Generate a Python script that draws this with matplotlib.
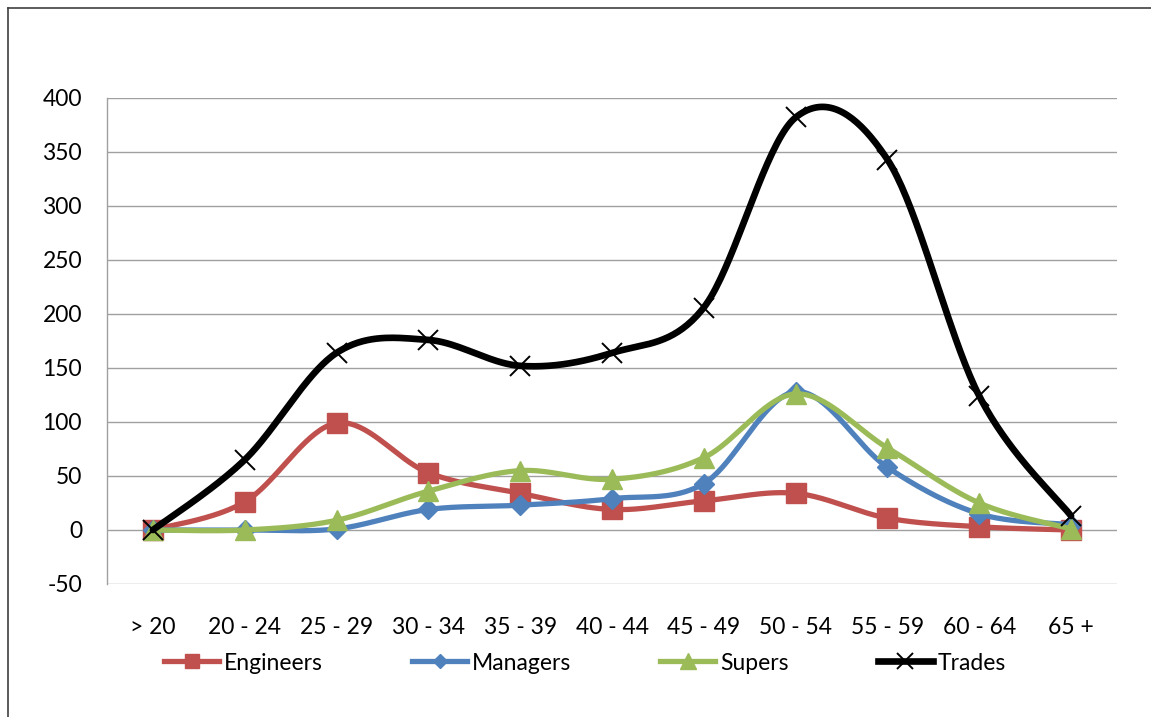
import numpy as np
import matplotlib
matplotlib.use("Agg")
import matplotlib.pyplot as plt
from matplotlib.lines import Line2D

# ---------------------------------------------------------------- dados
CATEGORIAS = ["> 20", "20 - 24", "25 - 29", "30 - 34", "35 - 39", "40 - 44",
              "45 - 49", "50 - 54", "55 - 59", "60 - 64", "65 +"]
ENGINEERS = [0, 26, 99, 53, 34, 19, 27, 34, 11, 3, 0]
MANAGERS = [0, 0, 1, 19, 23, 29, 43, 128, 58, 15, 5]
SUPERS = [0, 0, 9, 36, 55, 47, 67, 126, 76, 25, 1]
TRADES = [0, 65, 164, 176, 152, 164, 206, 382, 343, 124, 13]
Y_TICKS = [-50, 0, 50, 100, 150, 200, 250, 300, 350, 400]

# ---------------------------------------------------------------- estilo
FONT = ["Lato", "DejaVu Sans"]
FS = 16.5
RED = "#c0504d"
BLUE = "#4f81bd"
GREEN = "#9bbb59"
BLACK = "#000000"
GRID = "#a0a0a0"

plt.rcParams["font.family"] = FONT
plt.rcParams["axes.unicode_minus"] = False


def smooth(xs, ys, n=40):
    """Curva suavizada tipo Excel (Bezier Catmull-Rom por segmento)."""
    p = np.column_stack([xs, ys]).astype(float)
    pts = np.vstack([p[0], p, p[-1]])
    out = []
    t = np.linspace(0, 1, n)[:, None]
    for i in range(1, len(pts) - 2):
        p0, p1, p2, p3 = pts[i - 1], pts[i], pts[i + 1], pts[i + 2]
        c1 = p1 + (p2 - p0) / 6.0
        c2 = p2 - (p3 - p1) / 6.0
        seg = ((1 - t) ** 3) * p1 + 3 * ((1 - t) ** 2) * t * c1 \
            + 3 * (1 - t) * t ** 2 * c2 + t ** 3 * p2
        out.append(seg if i == 1 else seg[1:])
    s = np.vstack(out)
    return s[:, 0], s[:, 1]


fig = plt.figure(figsize=(11.51, 7.17), dpi=100)
ax = fig.add_axes([107 / 1151, 1 - 584 / 717, 1010 / 1151, 486 / 717])

x = np.arange(len(CATEGORIAS))
series = [
    ("Engineers", ENGINEERS, RED, "s", 14, 3.8, {}),
    ("Managers", MANAGERS, BLUE, "D", 10, 3.8, {}),
    ("Supers", SUPERS, GREEN, "^", 15, 3.8, {}),
    ("Trades", TRADES, BLACK, "x", 15, 4.8, {"markeredgewidth": 1.4}),
]

handles = []
for k, (nome, vals, cor, mk, ms, lw, extra) in enumerate(series):
    sx, sy = smooth(x, vals)
    z = 3 + 2 * k
    ax.plot(sx, sy, color=cor, lw=lw, solid_capstyle="round", zorder=z)
    ax.plot(x, vals, ls="none", marker=mk, ms=ms, color=cor,
            markeredgecolor=cor, zorder=z + 1, **extra)
    handles.append(Line2D([], [], color=cor, lw=lw, marker=mk,
                          ms=ms * 0.75, markeredgecolor=cor, label=nome,
                          **extra))

ax.set_xlim(-0.5, len(CATEGORIAS) - 0.5)
ax.set_ylim(-50, 400)
ax.set_yticks(Y_TICKS)
ax.set_xticks(x)
ax.set_xticklabels(CATEGORIAS)
ax.tick_params(axis="y", length=0, pad=18, labelsize=FS)
ax.tick_params(axis="x", length=0, pad=24, labelsize=FS)
ax.grid(axis="y", color=GRID, lw=1.0, zorder=0)
ax.set_axisbelow(True)
for s in ("top", "right", "bottom"):
    ax.spines[s].set_visible(False)
ax.spines["left"].set_color(GRID)
ax.spines["left"].set_linewidth(1.0)

fig.legend(handles=handles, loc="center", bbox_to_anchor=(585 / 1151, 1 - 663 / 717),
           ncol=4, frameon=False, fontsize=FS, handlelength=2.4,
           handletextpad=0.2, columnspacing=3.9, numpoints=1)

# moldura externa (só topo e esquerda visíveis no recorte)
fig.add_artist(Line2D([8 / 1151, 1.0], [1 - 8 / 717, 1 - 8 / 717],
                      transform=fig.transFigure, color="#404040", lw=1.2))
fig.add_artist(Line2D([8 / 1151, 8 / 1151], [0.0, 1 - 8 / 717],
                      transform=fig.transFigure, color="#404040", lw=1.2))

fig.savefig("out.png", dpi=100, facecolor="white")
